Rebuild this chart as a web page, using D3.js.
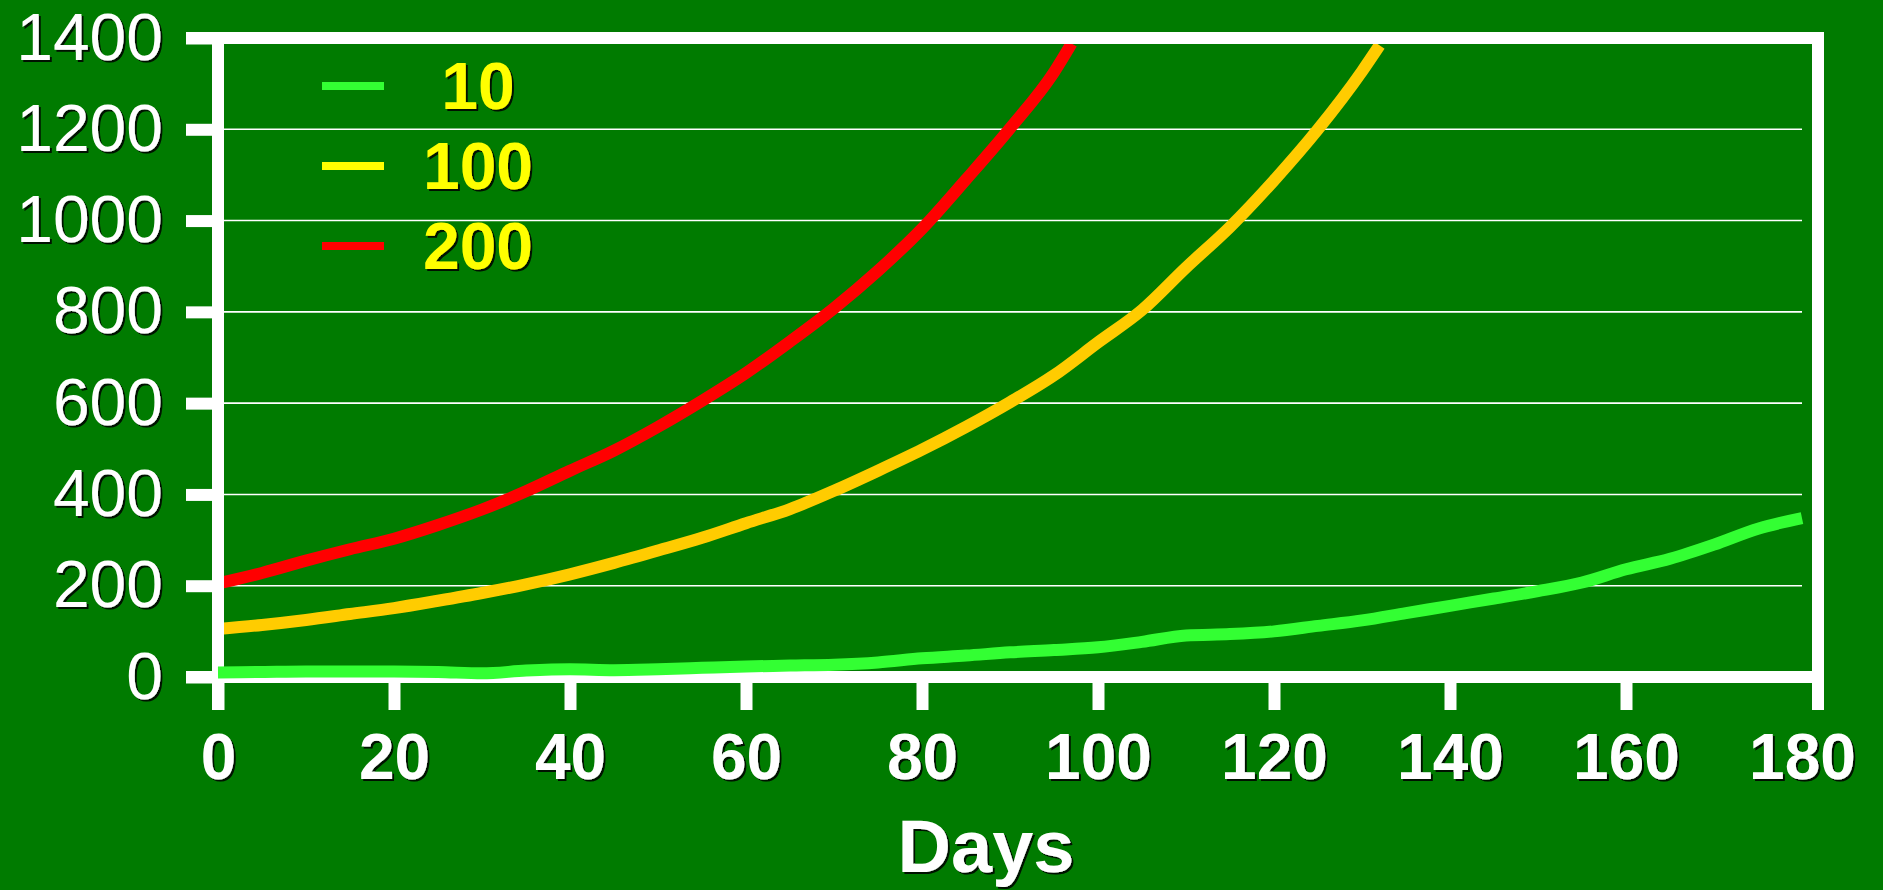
<!DOCTYPE html>
<html>
<head>
<meta charset="utf-8">
<script src="https://cdn.jsdelivr.net/npm/d3@7"></script>
<style>
  html, body { margin: 0; padding: 0; background: #007b00; overflow: hidden; }
  svg { display: block; }
</style>
</head>
<body>
<svg id="chart" width="1883" height="890"></svg>
<script>
// Population over time for three starting sizes (10, 100, 200)
const days10 = [0,5,10,15,20,25,30,35,40,45,50,55,60,65,70,75,80,85,90,95,100,105,110,115,120,125,130,135,140,145,150,155,160,165,170,175,180];
const pop10  = [10,11,12,12,12,11,8,14,17,15,17,20,23,25,27,32,41,47,54,59,65,77,91,94,100,112,124,140,156,172,188,207,236,259,290,325,348];

const days100 = [0,5,10,15,20,25,30,35,40,45,50,55,60,65,70,75,80,85,90,95,100,105,110,115,120,125,130,132];
const pop100  = [105,114,125,138,151,167,184,203,225,250,277,305,337,368,408,452,498,548,602,661,733,804,897,986,1088,1200,1327,1384];

const days200 = [0,5,10,15,20,25,30,35,40,45,50,55,60,65,70,75,80,85,90,95,97];
const pop200  = [205,228,255,280,303,333,367,407,452,496,548,605,666,735,808,890,982,1090,1202,1325,1388];

const seriesLabels = ["10", "100", "200"];
const xTickValues = [0,20,40,60,80,100,120,140,160,180];
const yTickValues = [0,200,400,600,800,1000,1200,1400];
const xTitle = "Days";

const FONT = "'Comic Sans MS', 'Liberation Sans', Arial, sans-serif";
const svg = d3.select("#chart");

// drop shadow used by all the text
const defs = svg.append("defs");
defs.append("filter").attr("id", "shadow")
  .attr("x", "-10%").attr("y", "-10%").attr("width", "130%").attr("height", "130%")
  .append("feDropShadow")
  .attr("dx", 2).attr("dy", 2).attr("stdDeviation", 0.6)
  .attr("flood-color", "#000").attr("flood-opacity", 0.85);

svg.append("rect").attr("width", 1883).attr("height", 890).attr("fill", "#007b00");

const x = d3.scaleLinear().domain([0, 180]).range([218, 1802]);
const y = d3.scaleLinear().domain([0, 1400]).range([677, 38]);

const AXIS_W = 12;
const LINE_W = 12;
const frameLeft = 186;
const frameRight = x(180) + 16;
const tickDrop = 33;

// horizontal gridlines (the top value is the frame itself)
svg.append("g")
  .selectAll("line")
  .data(yTickValues.filter(v => v > 0 && v < 1400))
  .join("line")
  .attr("x1", x(0) + AXIS_W / 2).attr("x2", x(180))
  .attr("y1", d => y(d)).attr("y2", d => y(d))
  .attr("stroke", "#fff").attr("stroke-width", 1.6);

const line = d3.line()
  .x(d => x(d[0]))
  .y(d => y(d[1]))
  .curve(d3.curveMonotoneX);

const zip = (a, b) => a.map((d, i) => [d, b[i]]);

// the two steep curves sit under the frame
svg.append("path")
  .datum(zip(days200, pop200))
  .attr("d", line)
  .attr("fill", "none").attr("stroke", "#ff0000").attr("stroke-width", LINE_W);

svg.append("path")
  .datum(zip(days100, pop100))
  .attr("d", line)
  .attr("fill", "none").attr("stroke", "#ffcc00").attr("stroke-width", LINE_W);

// axes
const yAxis = d3.axisLeft(y)
  .tickValues(yTickValues)
  .tickSize(x(0) - frameLeft)
  .tickSizeOuter(0)
  .tickPadding(23)
  .tickFormat(d3.format("d"));

const gy = svg.append("g")
  .attr("transform", `translate(${x(0)},0)`)
  .call(yAxis);
gy.select(".domain").remove();
gy.selectAll(".tick line").attr("stroke", "#fff").attr("stroke-width", AXIS_W);
gy.selectAll(".tick text")
  .attr("fill", "#fff")
  .attr("font-family", FONT)
  .attr("font-size", 66)
  .attr("filter", "url(#shadow)");

const xAxis = d3.axisBottom(x)
  .tickValues(xTickValues)
  .tickSize(tickDrop)
  .tickSizeOuter(0)
  .tickPadding(24)
  .tickFormat(d3.format("d"));

const gx = svg.append("g")
  .attr("transform", `translate(0,${y(0)})`)
  .call(xAxis);
gx.select(".domain").remove();
gx.selectAll(".tick line")
  .attr("stroke", "#fff").attr("stroke-width", AXIS_W)
  .filter(d => d === 180).remove();
gx.selectAll(".tick text")
  .attr("fill", "#fff")
  .attr("font-family", FONT)
  .attr("font-weight", "bold")
  .attr("font-size", 64)
  .attr("filter", "url(#shadow)");

// plot frame: left axis, bottom axis, top edge and right edge
const frame = svg.append("g").attr("stroke", "#fff").attr("stroke-width", AXIS_W);
frame.append("line")
  .attr("x1", x(0)).attr("x2", x(0))
  .attr("y1", y(1400) - AXIS_W / 2).attr("y2", y(0) + tickDrop);
frame.append("line")
  .attr("x1", frameLeft).attr("x2", frameRight + AXIS_W / 2)
  .attr("y1", y(0)).attr("y2", y(0));
frame.append("line")
  .attr("x1", frameLeft).attr("x2", frameRight + AXIS_W / 2)
  .attr("y1", y(1400)).attr("y2", y(1400));
frame.append("line")
  .attr("x1", frameRight).attr("x2", frameRight)
  .attr("y1", y(1400) - AXIS_W / 2).attr("y2", y(0) + tickDrop);

// the flat curve runs over the axes
svg.append("path")
  .datum(zip(days10, pop10))
  .attr("d", line)
  .attr("fill", "none").attr("stroke", "#33ff33").attr("stroke-width", LINE_W);

// x axis title
svg.append("text")
  .attr("x", (x(0) + x(180)) / 2 - 24)
  .attr("y", 872)
  .attr("text-anchor", "middle")
  .attr("fill", "#fff")
  .attr("font-family", FONT)
  .attr("font-weight", "bold")
  .attr("font-size", 74)
  .attr("filter", "url(#shadow)")
  .text(xTitle);

// legend
const legendColors = ["#33ff33", "#ffff00", "#ff0000"];
const legend = svg.append("g").attr("transform", "translate(322,86)");
const item = legend.selectAll("g")
  .data(seriesLabels)
  .join("g")
  .attr("transform", (d, i) => `translate(0,${i * 80})`);
item.append("line")
  .attr("x1", 0).attr("x2", 62)
  .attr("stroke", (d, i) => legendColors[i])
  .attr("stroke-width", 8);
item.append("text")
  .attr("x", 156)
  .attr("y", 0)
  .attr("dy", "0.35em")
  .attr("text-anchor", "middle")
  .attr("fill", "#ffff00")
  .attr("font-family", FONT)
  .attr("font-weight", "bold")
  .attr("font-size", 66)
  .attr("filter", "url(#shadow)")
  .text(d => d);
</script>
</body>
</html>
